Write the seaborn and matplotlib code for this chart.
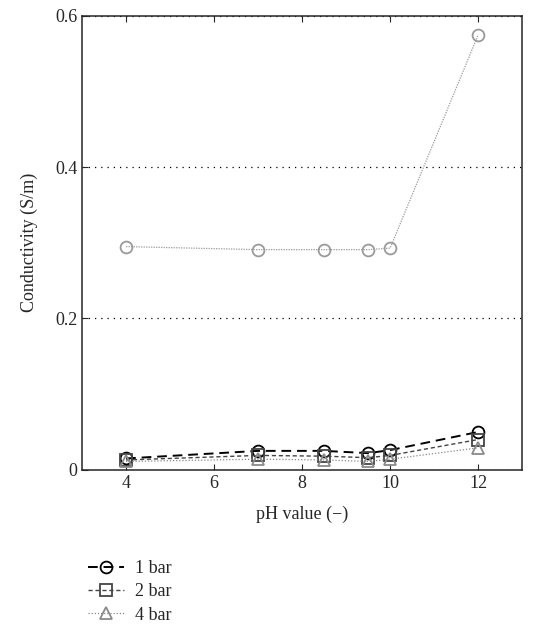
import matplotlib
matplotlib.use("Agg")
import matplotlib.pyplot as plt
import seaborn as sns
import pandas as pd

ph = [4, 7, 8.5, 9.5, 10, 12]
bar1 = [0.015, 0.025, 0.025, 0.022, 0.026, 0.050]
bar2 = [0.013, 0.019, 0.018, 0.016, 0.019, 0.040]
bar4 = [0.011, 0.014, 0.013, 0.011, 0.014, 0.029]
upper = [0.295, 0.291, 0.291, 0.291, 0.293, 0.575]

sns.set_style("ticks")
plt.rcParams["font.family"] = ["Liberation Serif", "DejaVu Serif"]

fig = plt.figure(figsize=(5.4, 6.34), dpi=100)
ax = fig.add_axes([0.152, 0.259, 0.815, 0.716])

series = [
    ("_up", upper, "#9a9a9a", "o", (0, (1, 1)), 0.9),
    ("1 bar", bar1, "black", "o", (0, (5, 3)), 1.4),
    ("2 bar", bar2, "#444444", "s", (0, (3, 2)), 1.0),
    ("4 bar", bar4, "#8a8a8a", "^", (0, (1, 1.5)), 0.9),
]
handles = {}
for name, vals, col, mk, ls, lw in series:
    df = pd.DataFrame({"ph": ph, "cond": vals})
    sns.lineplot(data=df, x="ph", y="cond", ax=ax, color=col, marker=mk,
                 linestyle=ls, linewidth=lw, markersize=8.5,
                 markerfacecolor="none", markeredgecolor=col,
                 markeredgewidth=1.3, label=name)
    handles[name] = ax.lines[-1]

ax.set_xlim(3, 13)
ax.set_ylim(0, 0.6)
ax.set_xticks([4, 6, 8, 10, 12])
ax.set_yticks([0, 0.2, 0.4, 0.6])
ax.set_yticklabels(["0", "0.2", "0.4", "0.6"])
ax.yaxis.grid(True, linestyle=(0, (1, 4)), color="black", linewidth=0.9)
ax.tick_params(direction="in", labelsize=13, top=True, length=4)
for s in ax.spines.values():
    s.set_linewidth(1.1)
ax.set_xlabel("pH value (\u2212)", fontsize=13, labelpad=10)
ax.set_ylabel("Conductivity (S/m)", fontsize=13, labelpad=12)

ax.get_legend().remove()
fig.legend([handles["1 bar"], handles["2 bar"], handles["4 bar"]],
           ["1 bar", "2 bar", "4 bar"], loc="upper left",
           bbox_to_anchor=(0.15, 0.128), frameon=False, fontsize=13,
           handlelength=2.0, handletextpad=0.6, labelspacing=0.35,
           borderaxespad=0)

fig.savefig("out.png", dpi=100)
